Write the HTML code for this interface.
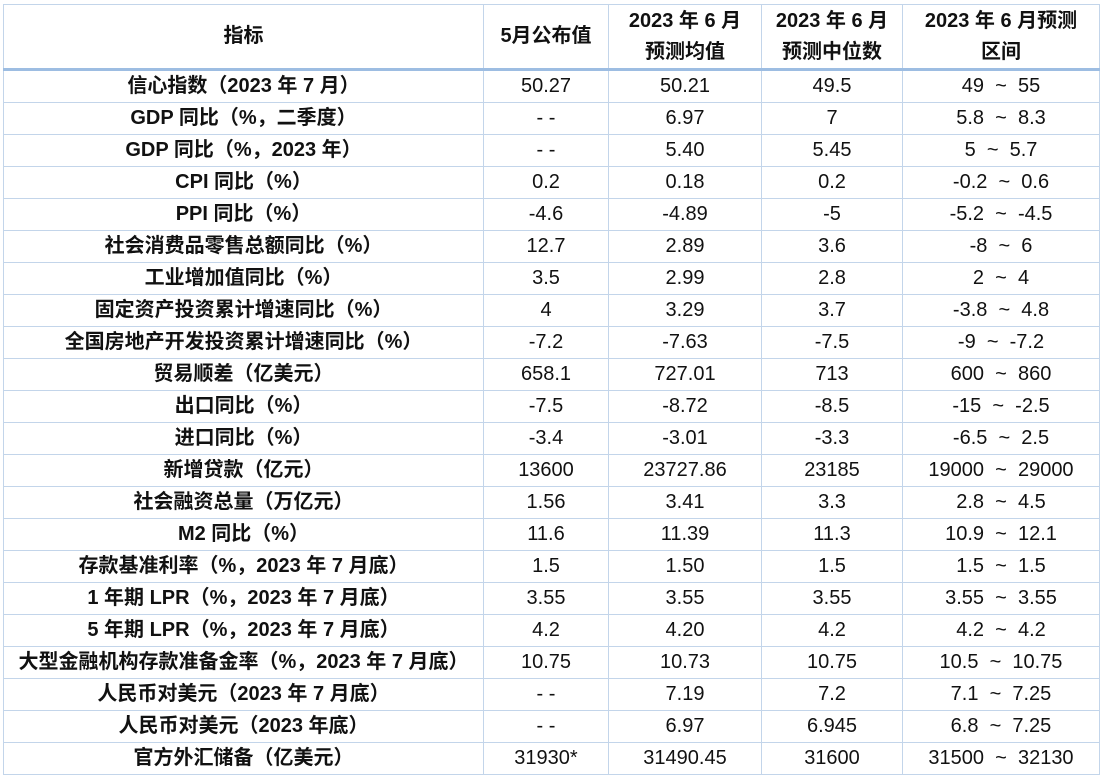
<!DOCTYPE html>
<html><head><meta charset="utf-8"><style>
html,body{margin:0;padding:0;background:#fff;width:1106px;height:779px;overflow:hidden}
table{position:absolute;left:3px;top:4px;border-collapse:collapse;table-layout:fixed;font-family:"Liberation Sans","Noto Sans CJK SC",sans-serif;color:#111}
td{border:1px solid #c3d5ea;text-align:center;padding:0;height:31px;font-size:20px;line-height:31px;white-space:nowrap}
td:first-child{font-weight:bold}
tr.h td{height:63px;font-weight:bold;line-height:31px;border-bottom:3px solid #9dbde2}
</style></head><body>
<table>
<colgroup><col style="width:480px"><col style="width:125px"><col style="width:153px"><col style="width:141px"><col style="width:197px"></colgroup>
<tr class="h"><td>指标</td><td>5月公布值</td><td>2023 年 6 月<br>预测均值</td><td>2023 年 6 月<br>预测中位数</td><td>2023 年 6 月预测<br>区间</td></tr>
<tr><td>信心指数（2023 年 7 月）</td><td>50.27</td><td>50.21</td><td>49.5</td><td>49 &nbsp;~ &nbsp;55</td></tr>
<tr><td>GDP 同比（%，二季度）</td><td>- -</td><td>6.97</td><td>7</td><td>5.8 &nbsp;~ &nbsp;8.3</td></tr>
<tr><td>GDP 同比（%，2023 年）</td><td>- -</td><td>5.40</td><td>5.45</td><td>5 &nbsp;~ &nbsp;5.7</td></tr>
<tr><td>CPI 同比（%）</td><td>0.2</td><td>0.18</td><td>0.2</td><td>-0.2 &nbsp;~ &nbsp;0.6</td></tr>
<tr><td>PPI 同比（%）</td><td>-4.6</td><td>-4.89</td><td>-5</td><td>-5.2 &nbsp;~ &nbsp;-4.5</td></tr>
<tr><td>社会消费品零售总额同比（%）</td><td>12.7</td><td>2.89</td><td>3.6</td><td>-8 &nbsp;~ &nbsp;6</td></tr>
<tr><td>工业增加值同比（%）</td><td>3.5</td><td>2.99</td><td>2.8</td><td>2 &nbsp;~ &nbsp;4</td></tr>
<tr><td>固定资产投资累计增速同比（%）</td><td>4</td><td>3.29</td><td>3.7</td><td>-3.8 &nbsp;~ &nbsp;4.8</td></tr>
<tr><td>全国房地产开发投资累计增速同比（%）</td><td>-7.2</td><td>-7.63</td><td>-7.5</td><td>-9 &nbsp;~ &nbsp;-7.2</td></tr>
<tr><td>贸易顺差（亿美元）</td><td>658.1</td><td>727.01</td><td>713</td><td>600 &nbsp;~ &nbsp;860</td></tr>
<tr><td>出口同比（%）</td><td>-7.5</td><td>-8.72</td><td>-8.5</td><td>-15 &nbsp;~ &nbsp;-2.5</td></tr>
<tr><td>进口同比（%）</td><td>-3.4</td><td>-3.01</td><td>-3.3</td><td>-6.5 &nbsp;~ &nbsp;2.5</td></tr>
<tr><td>新增贷款（亿元）</td><td>13600</td><td>23727.86</td><td>23185</td><td>19000 &nbsp;~ &nbsp;29000</td></tr>
<tr><td>社会融资总量（万亿元）</td><td>1.56</td><td>3.41</td><td>3.3</td><td>2.8 &nbsp;~ &nbsp;4.5</td></tr>
<tr><td>M2 同比（%）</td><td>11.6</td><td>11.39</td><td>11.3</td><td>10.9 &nbsp;~ &nbsp;12.1</td></tr>
<tr><td>存款基准利率（%，2023 年 7 月底）</td><td>1.5</td><td>1.50</td><td>1.5</td><td>1.5 &nbsp;~ &nbsp;1.5</td></tr>
<tr><td>1 年期 LPR（%，2023 年 7 月底）</td><td>3.55</td><td>3.55</td><td>3.55</td><td>3.55 &nbsp;~ &nbsp;3.55</td></tr>
<tr><td>5 年期 LPR（%，2023 年 7 月底）</td><td>4.2</td><td>4.20</td><td>4.2</td><td>4.2 &nbsp;~ &nbsp;4.2</td></tr>
<tr><td>大型金融机构存款准备金率（%，2023 年 7 月底）</td><td>10.75</td><td>10.73</td><td>10.75</td><td>10.5 &nbsp;~ &nbsp;10.75</td></tr>
<tr><td>人民币对美元（2023 年 7 月底）</td><td>- -</td><td>7.19</td><td>7.2</td><td>7.1 &nbsp;~ &nbsp;7.25</td></tr>
<tr><td>人民币对美元（2023 年底）</td><td>- -</td><td>6.97</td><td>6.945</td><td>6.8 &nbsp;~ &nbsp;7.25</td></tr>
<tr><td>官方外汇储备（亿美元）</td><td>31930*</td><td>31490.45</td><td>31600</td><td>31500 &nbsp;~ &nbsp;32130</td></tr>
</table>
</body></html>
